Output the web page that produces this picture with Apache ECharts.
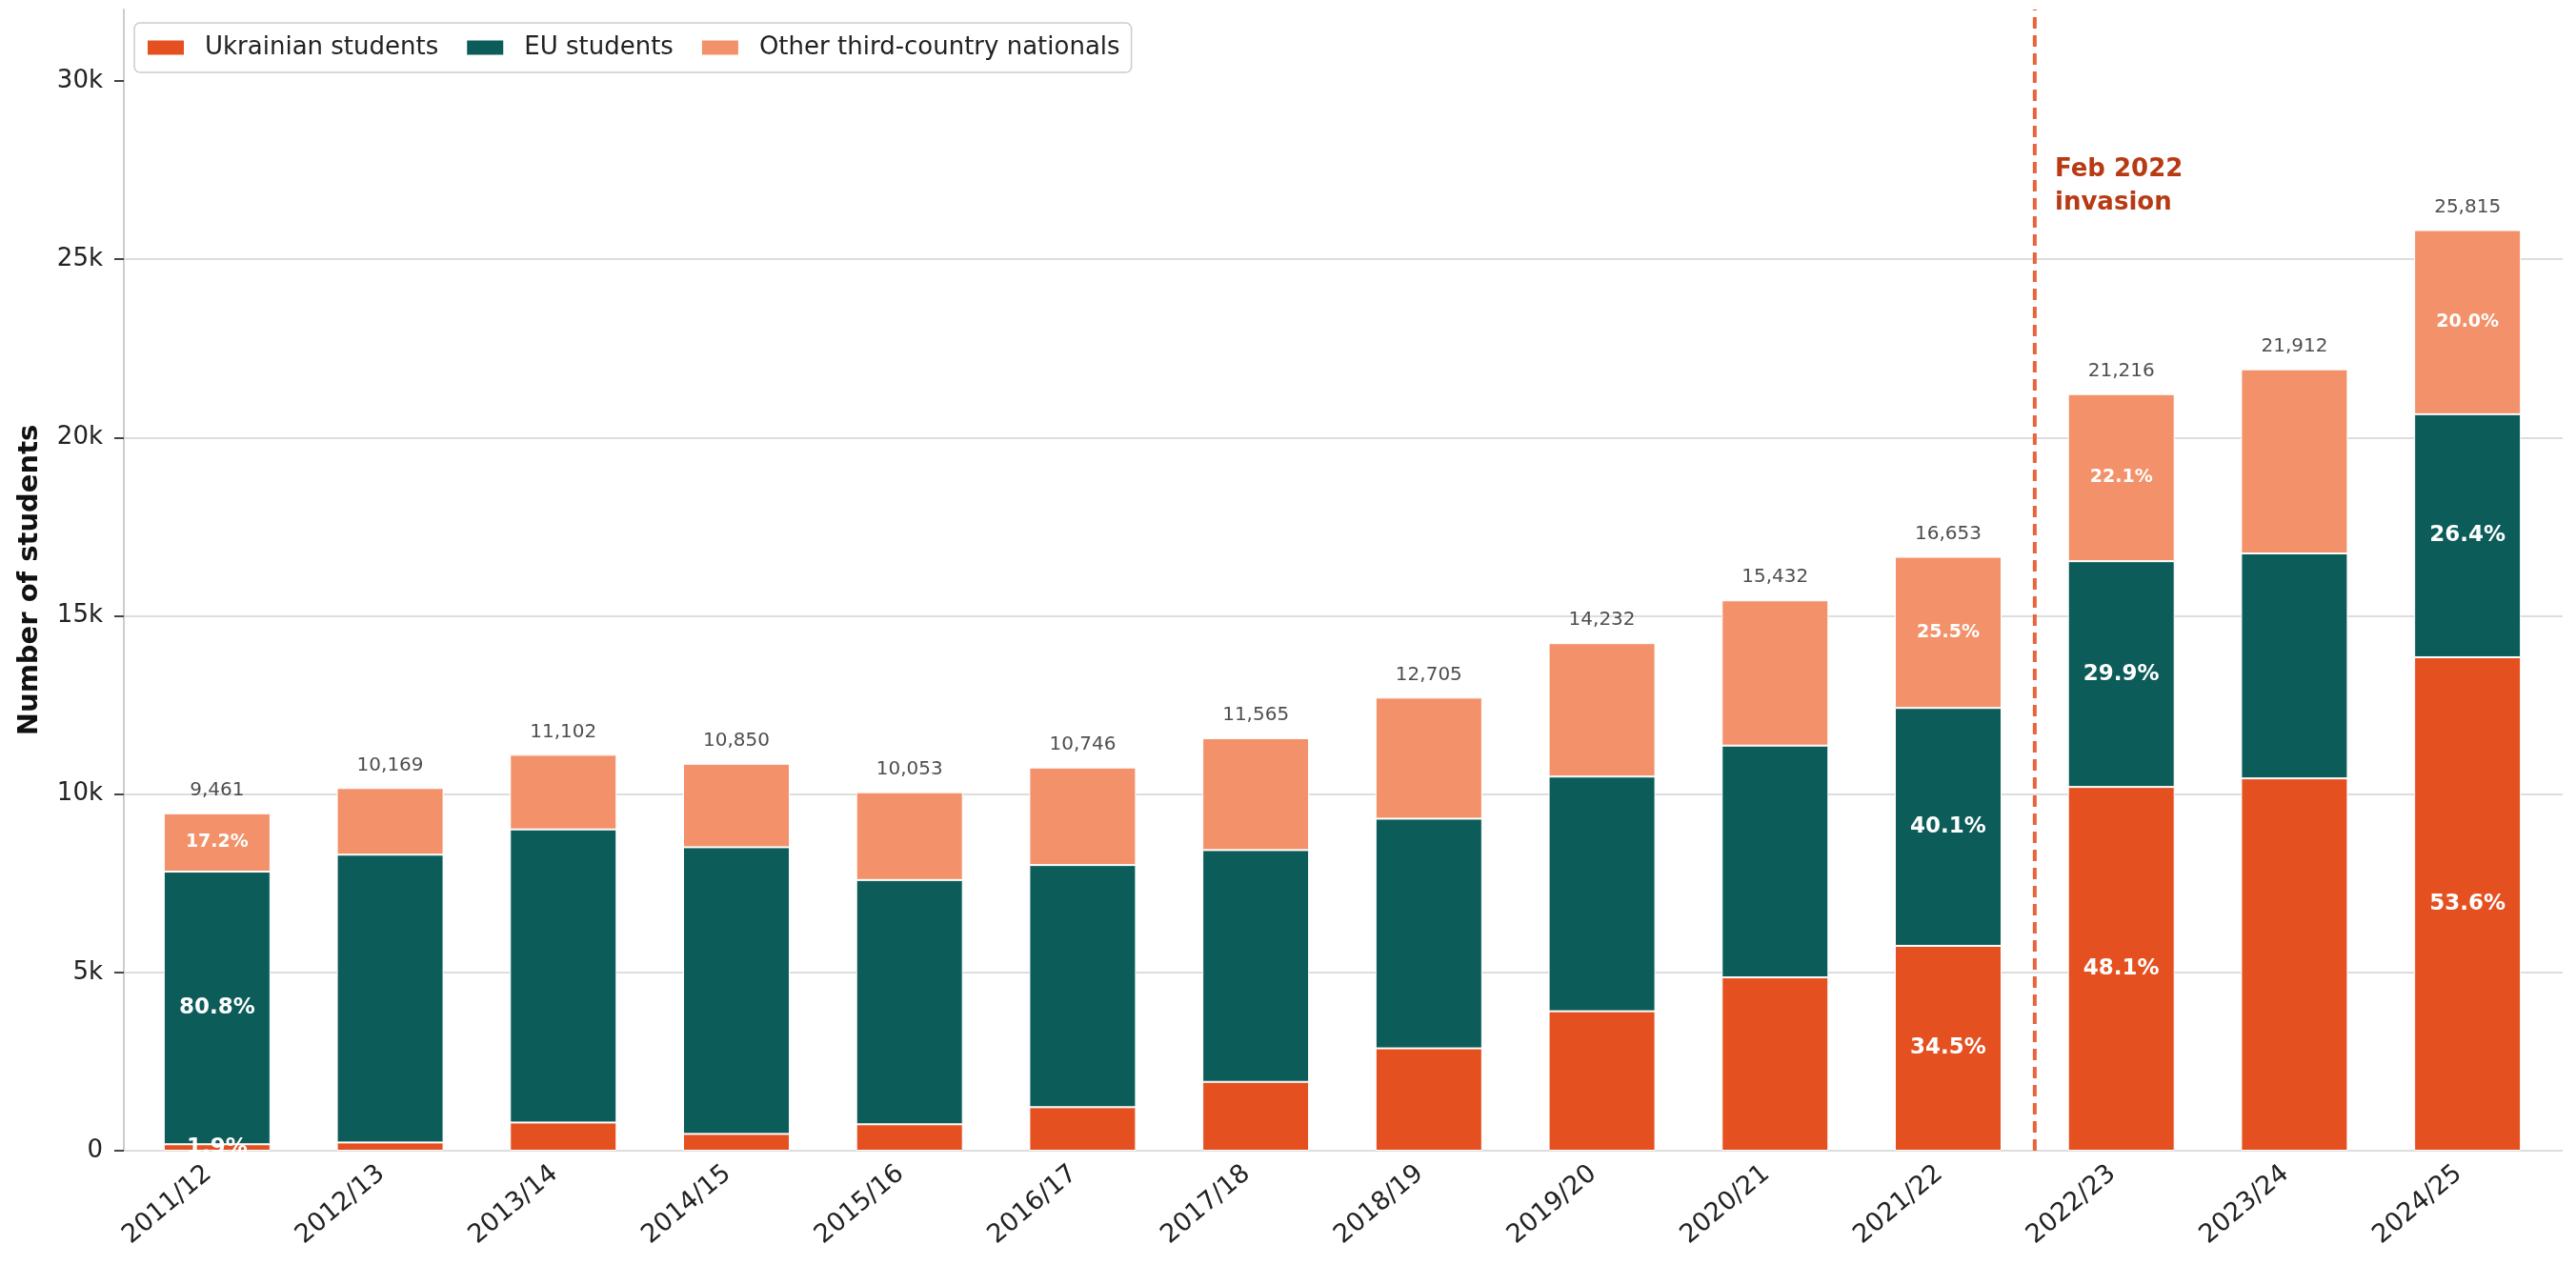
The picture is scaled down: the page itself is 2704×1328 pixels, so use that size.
<!DOCTYPE html>
<html>
<head>
<meta charset="utf-8">
<script src="https://cdn.jsdelivr.net/npm/echarts@6/dist/echarts.min.js"></script>
<style>
  html, body { margin: 0; padding: 0; background: #fff; }
  #chart { width: 2704px; height: 1328px; }
</style>
</head>
<body>
<div id="chart"></div>
<script>
  // data
  var years = ['2011/12', '2012/13', '2013/14', '2014/15', '2015/16', '2016/17', '2017/18',
    '2018/19', '2019/20', '2020/21', '2021/22', '2022/23', '2023/24', '2024/25']
  var ukrainian = [180, 230, 790, 470, 740, 1220, 1930, 2870, 3910, 4860, 5745, 10200, 10440, 13837]
  var eu = [7645, 8070, 8220, 8040, 6850, 6790, 6500, 6440, 6580, 6500, 6670, 6330, 6310, 6815]
  var other = [1636, 1869, 2092, 2340, 2463, 2736, 3135, 3395, 3742, 4072, 4238, 4686, 5162, 5163]
  var totals = [9461, 10169, 11102, 10850, 10053, 10746, 11565, 12705, 14232, 15432, 16653, 21216, 21912, 25815]
  var uaPct = ['1.9%', '', '', '', '', '', '', '', '', '', '34.5%', '48.1%', '', '53.6%']
  var euPct = ['80.8%', '', '', '', '', '', '', '', '', '', '40.1%', '29.9%', '', '26.4%']
  var otherPct = ['17.2%', '', '', '', '', '', '', '', '', '', '25.5%', '22.1%', '', '20.0%']
  var yTicks = [0, 5000, 10000, 15000, 20000, 25000, 30000]
  var invasionAt = 10.5

  var FONT = 'DejaVu Sans'
  var chart = echarts.init(document.getElementById('chart'))

  function pctLabel (list, size) {
    return {
      show: true,
      position: 'inside',
      color: '#fff',
      fontFamily: FONT,
      fontWeight: 'bold',
      fontSize: size,
      formatter: function (p) { return list[p.dataIndex] }
    }
  }

  var barStyle = function (color) {
    return { color: color, borderColor: '#fff', borderWidth: 1 }
  }

  chart.setOption({
    animation: false,
    backgroundColor: '#fff',
    textStyle: { fontFamily: FONT },
    legend: {
      data: ['Ukrainian students', 'EU students', 'Other third-country nationals'],
      left: 141,
      top: 24,
      padding: [13, 12, 13, 12],
      itemWidth: 40,
      itemHeight: 17,
      itemGap: 28,
      icon: 'rect',
      borderColor: '#cccccc',
      borderWidth: 1.5,
      borderRadius: 6,
      backgroundColor: '#fff',
      textStyle: { fontFamily: FONT, fontSize: 26, color: '#222', padding: [0, 0, 0, 16] }
    },
    grid: [
      { left: 137, right: 23, top: 10, bottom: 120 },
      { left: 130, right: 14, top: 10, bottom: 120 }
    ],
    xAxis: [
      {
        type: 'category',
        gridIndex: 0,
        data: years,
        axisLine: { show: false },
        axisTick: { show: false },
        axisLabel: {
          rotate: 40,
          margin: 13,
          padding: [0, 12, 0, 0],
          fontSize: 27,
          color: '#222',
          fontFamily: FONT
        }
      },
      { type: 'value', gridIndex: 0, min: -0.5, max: 13.5, show: false },
      { type: 'value', gridIndex: 1, min: 0, max: 1, show: false }
    ],
    yAxis: [
      { type: 'value', gridIndex: 0, min: 0, max: 32000, show: false },
      {
        type: 'value',
        gridIndex: 1,
        min: 0,
        max: 32000,
        interval: 5000,
        name: 'Number of students',
        nameLocation: 'middle',
        nameGap: 84,
        nameTextStyle: { fontFamily: FONT, fontSize: 29, fontWeight: 'bold', color: '#111' },
        axisLine: { show: true, lineStyle: { color: '#cccccc', width: 2 } },
        axisTick: { show: true, length: 10, customValues: yTicks, lineStyle: { color: '#444', width: 2 } },
        axisLabel: {
          customValues: yTicks,
          margin: 22,
          fontSize: 26,
          color: '#222',
          fontFamily: FONT,
          formatter: function (v) { return v === 0 ? '0' : (v / 1000) + 'k' }
        },
        splitLine: { show: true, showMaxLine: false, lineStyle: { color: '#dddddd', width: 2 } }
      }
    ],
    graphic: [{
      type: 'text',
      left: 2157,
      top: 161,
      z: 100,
      style: {
        text: 'Feb 2022\ninvasion',
        font: 'bold 26px "DejaVu Sans"',
        lineHeight: 35,
        fill: '#B83A14'
      }
    }],
    series: [
      {
        name: 'Ukrainian students',
        type: 'bar',
        stack: 'total',
        barWidth: 112,
        data: ukrainian,
        itemStyle: barStyle('#E55020'),
        label: pctLabel(uaPct, 23)
      },
      {
        name: 'EU students',
        type: 'bar',
        stack: 'total',
        barWidth: 112,
        data: eu,
        itemStyle: barStyle('#0C5C5A'),
        label: pctLabel(euPct, 23)
      },
      {
        name: 'Other third-country nationals',
        type: 'bar',
        stack: 'total',
        barWidth: 112,
        data: other,
        itemStyle: barStyle('#F2916A'),
        label: pctLabel(otherPct, 19)
      },
      {
        name: 'totals',
        type: 'scatter',
        symbolSize: 0,
        data: totals,
        z: 5,
        label: {
          show: true,
          position: 'top',
          distance: 14,
          fontSize: 20,
          color: '#222',
          fontFamily: FONT,
          formatter: function (p) { return totals[p.dataIndex].toLocaleString('en-US') }
        }
      },
      {
        name: 'invasion',
        type: 'line',
        xAxisIndex: 1,
        yAxisIndex: 0,
        symbol: 'none',
        z: 10,
        data: [[invasionAt, 0], [invasionAt, 32000]],
        lineStyle: { color: '#E8643A', width: 4, type: [12, 7] }
      }
    ]
  })
</script>
</body>
</html>
